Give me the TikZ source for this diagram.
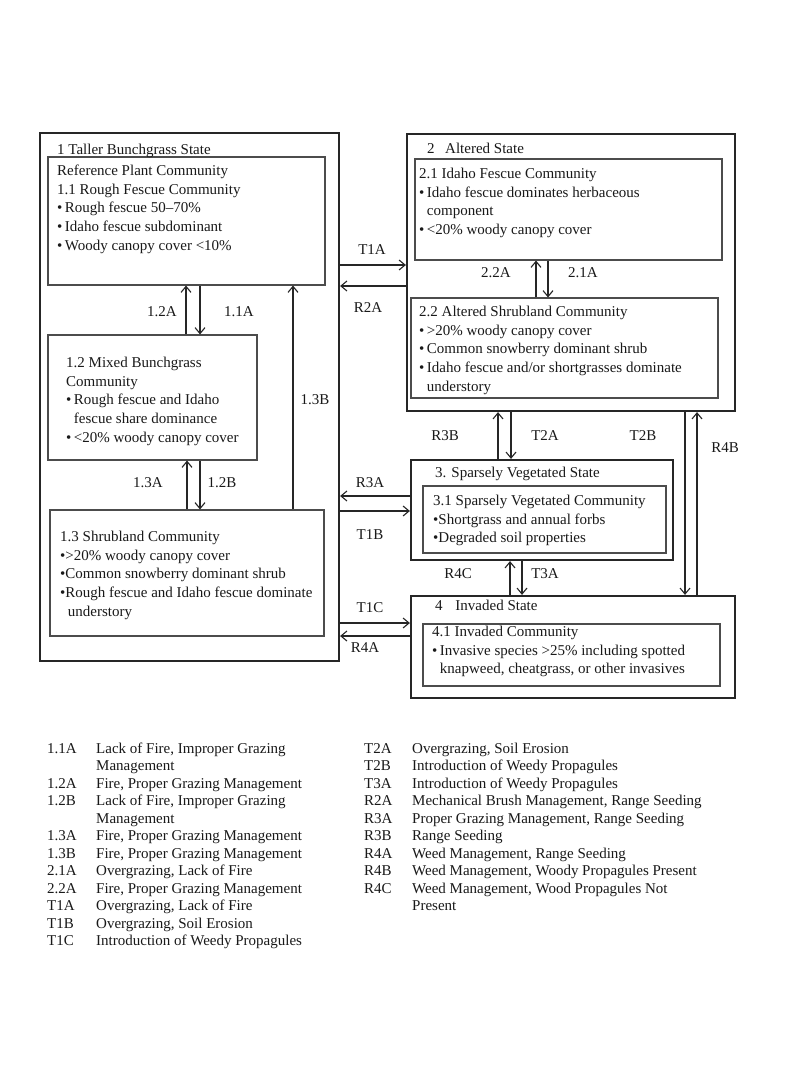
\documentclass[tikz,border=0pt]{standalone}
\usepackage{fontspec}
\setmainfont{Liberation Serif}
\usetikzlibrary{arrows.meta}
\tikzset{
  state/.style={draw=black!85,line width=2.2pt,inner sep=0pt},
  comm/.style={draw=black!70,line width=1.1pt,inner sep=0pt},
  txt/.style={anchor=north west,inner sep=0pt,align=left,text=black!90,font=\fontsize{15}{18.6}\selectfont},
  lab/.style={inner sep=0pt,text=black!90,font=\fontsize{15}{18}\selectfont},
  key/.style={anchor=north west,inner sep=0pt,text=black!90,font=\fontsize{15}{17.5}\selectfont},
  arr/.style={draw=black!85,line width=1.1pt,-{Straight Barb[length=6pt,width=10pt]}},
}
\newcommand{\bul}{\textbullet}
\newcommand{\hang}{\phantom{\textbullet\,}}
\begin{document}
\begin{tikzpicture}[x=1pt,y=-1pt]
\useasboundingbox[fill=white] (0,0) rectangle (800,1067);
\node[state,minimum width=299pt,minimum height=528pt] (s1) at (189.5,397) {};
\node[comm,minimum width=277pt,minimum height=128pt] (c11) at (186.5,221) {};
\node[comm,minimum width=209pt,minimum height=125pt] (c12) at (152.5,397.5) {};
\node[comm,minimum width=274pt,minimum height=126pt] (c13) at (187,573) {};
\node[state,minimum width=328pt,minimum height=277pt] (s2) at (571,272.5) {};
\node[comm,minimum width=307pt,minimum height=101pt] (c21) at (568.5,209.5) {};
\node[comm,minimum width=307pt,minimum height=100pt] (c22) at (564.5,348) {};
\node[state,minimum width=262pt,minimum height=100pt] (s3) at (542,510) {};
\node[comm,minimum width=243pt,minimum height=67pt] (c31) at (544.5,519.5) {};
\node[state,minimum width=324pt,minimum height=102pt] (s4) at (573,647) {};
\node[comm,minimum width=297pt,minimum height=62pt] (c41) at (571.5,655) {};

\node[txt] (t1) at (57,144) {1 Taller Bunchgrass State};
\node[txt] (t2) at (427,143) {2\hspace{0.7em}Altered State};
\node[txt] (t3) at (435,467) {3. Sparsely Vegetated State};
\node[txt] (t4) at (435,600) {4\hspace{0.85em}Invaded State};

\node[txt] (x11) at (57,165) {Reference Plant Community\\1.1 Rough Fescue Community\\
  \bul\,Rough fescue 50--70\%\\\bul\,Idaho fescue subdominant\\\bul\,Woody canopy cover <10\%};
\node[txt] (x12) at (66,357) {1.2 Mixed Bunchgrass\\Community\\\bul\,Rough fescue and Idaho\\
  \hang fescue share dominance\\\bul\,<20\% woody canopy cover};
\node[txt] (x13) at (60,531) {1.3 Shrubland Community\\\bul>20\% woody canopy cover\\
  \bul Common snowberry dominant shrub\\\bul Rough fescue and Idaho fescue dominate\\
  \hang understory};
\node[txt] (x21) at (419,168) {2.1 Idaho Fescue Community\\\bul\,Idaho fescue dominates herbaceous\\
  \hang component\\\bul\,<20\% woody canopy cover};
\node[txt] (x22) at (419,306) {2.2 Altered Shrubland Community\\\bul\,>20\% woody canopy cover\\
  \bul\,Common snowberry dominant shrub\\\bul\,Idaho fescue and/or shortgrasses dominate\\
  \hang understory};
\node[txt] (x31) at (433,495) {3.1 Sparsely Vegetated Community\\\bul Shortgrass and annual forbs\\
  \bul Degraded soil properties};
\node[txt] (x41) at (432,626) {4.1 Invaded Community\\\bul\,Invasive species >25\% including spotted\\
  \hang knapweed, cheatgrass, or other invasives};

\draw[arr] (c12.north -| 186,0) -- (c11.south -| 186,0);
\draw[arr] (c11.south -| 200,0) -- (c12.north -| 200,0);
\draw[arr] (c13.north -| 187,0) -- (c12.south -| 187,0);
\draw[arr] (c12.south -| 200,0) -- (c13.north -| 200,0);
\draw[arr] (c13.north -| 293,0) -- (c11.south -| 293,0);
\draw[arr] (c22.north -| 536,0) -- (c21.south -| 536,0);
\draw[arr] (c21.south -| 548,0) -- (c22.north -| 548,0);
\draw[arr] (s1.east |- 0,265) -- (s2.west |- 0,265);
\draw[arr] (s2.west |- 0,286) -- (s1.east |- 0,286);
\draw[arr] (s3.west |- 0,496) -- (s1.east |- 0,496);
\draw[arr] (s1.east |- 0,511) -- (s3.west |- 0,511);
\draw[arr] (s1.east |- 0,623) -- (s4.west |- 0,623);
\draw[arr] (s4.west |- 0,636) -- (s1.east |- 0,636);
\draw[arr] (s3.north -| 498,0) -- (s2.south -| 498,0);
\draw[arr] (s2.south -| 511,0) -- (s3.north -| 511,0);
\draw[arr] (s2.south -| 685,0) -- (s4.north -| 685,0);
\draw[arr] (s4.north -| 697,0) -- (s2.south -| 697,0);
\draw[arr] (s4.north -| 510,0) -- (s3.south -| 510,0);
\draw[arr] (s3.south -| 522,0) -- (s4.north -| 522,0);

\node[lab] (l12a) at (162,312) {1.2A};
\node[lab] (l11a) at (239,312) {1.1A};
\node[lab] (l13b) at (315,400) {1.3B};
\node[lab] (l13a) at (148,483) {1.3A};
\node[lab] (l12b) at (222,483) {1.2B};
\node[lab] (l22a) at (496,273) {2.2A};
\node[lab] (l21a) at (583,273) {2.1A};
\node[lab] (lt1a) at (372,250) {T1A};
\node[lab] (lr2a) at (368,308) {R2A};
\node[lab] (lr3a) at (370,483) {R3A};
\node[lab] (lt1b) at (370,535) {T1B};
\node[lab] (lt1c) at (370,608) {T1C};
\node[lab] (lr4a) at (365,648) {R4A};
\node[lab] (lr3b) at (445,436) {R3B};
\node[lab] (lt2a) at (545,436) {T2A};
\node[lab] (lt2b) at (643,436) {T2B};
\node[lab] (lr4b) at (725,448) {R4B};
\node[lab] (lr4c) at (458,574) {R4C};
\node[lab] (lt3a) at (545,574) {T3A};

\node[key] (keyL) at (47,741) {\begin{tabular}{@{}p{49pt}@{}l@{}}
1.1A & Lack of Fire, Improper Grazing\\
 & Management\\
1.2A & Fire, Proper Grazing Management\\
1.2B & Lack of Fire, Improper Grazing\\
 & Management\\
1.3A & Fire, Proper Grazing Management\\
1.3B & Fire, Proper Grazing Management\\
2.1A & Overgrazing, Lack of Fire\\
2.2A & Fire, Proper Grazing Management\\
T1A & Overgrazing, Lack of Fire\\
T1B & Overgrazing, Soil Erosion\\
T1C & Introduction of Weedy Propagules
\end{tabular}};
\node[key] (keyR) at (364,741) {\begin{tabular}{@{}p{48pt}@{}l@{}}
T2A & Overgrazing, Soil Erosion\\
T2B & Introduction of Weedy Propagules\\
T3A & Introduction of Weedy Propagules\\
R2A & Mechanical Brush Management, Range Seeding\\
R3A & Proper Grazing Management, Range Seeding\\
R3B & Range Seeding\\
R4A & Weed Management, Range Seeding\\
R4B & Weed Management, Woody Propagules Present\\
R4C & Weed Management, Wood Propagules Not\\
 & Present
\end{tabular}};
\end{tikzpicture}
\end{document}
